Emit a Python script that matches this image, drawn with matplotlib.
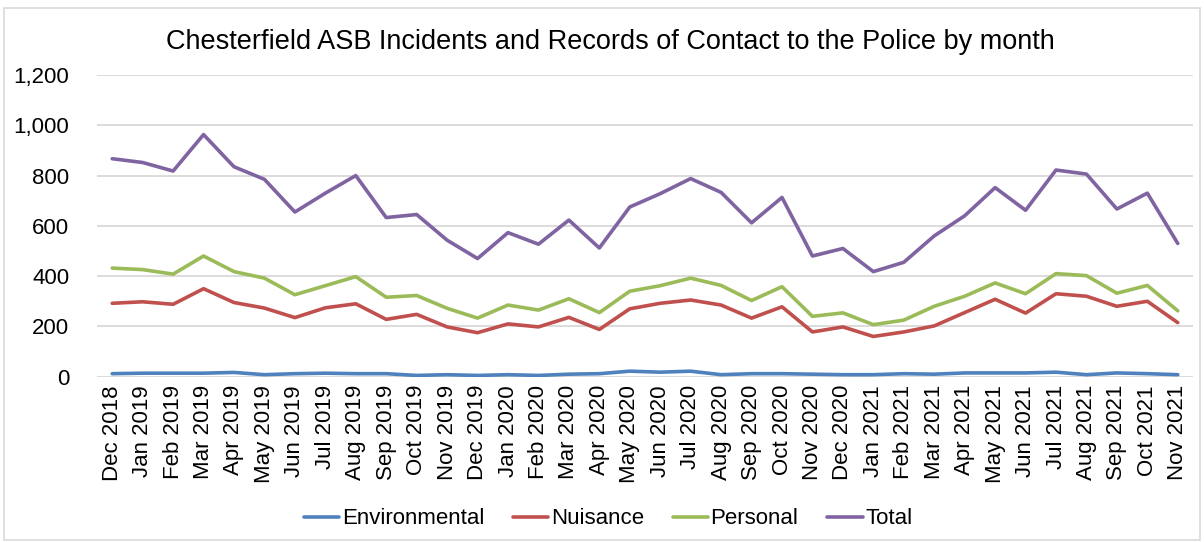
import matplotlib
matplotlib.use("Agg")
import matplotlib.pyplot as plt
from matplotlib.patches import Rectangle
from matplotlib.ticker import FuncFormatter

months = ["Dec 2018", "Jan 2019", "Feb 2019", "Mar 2019", "Apr 2019", "May 2019",
          "Jun 2019", "Jul 2019", "Aug 2019", "Sep 2019", "Oct 2019", "Nov 2019",
          "Dec 2019", "Jan 2020", "Feb 2020", "Mar 2020", "Apr 2020", "May 2020",
          "Jun 2020", "Jul 2020", "Aug 2020", "Sep 2020", "Oct 2020", "Nov 2020",
          "Dec 2020", "Jan 2021", "Feb 2021", "Mar 2021", "Apr 2021", "May 2021",
          "Jun 2021", "Jul 2021", "Aug 2021", "Sep 2021", "Oct 2021", "Nov 2021"]

environmental = [12, 14, 14, 14, 17, 8, 12, 14, 12, 12, 5, 8,
                 5, 8, 5, 10, 12, 22, 18, 22, 8, 12, 12, 10,
                 8, 8, 12, 10, 15, 15, 15, 18, 8, 15, 12, 8]
nuisance = [292, 298, 288, 350, 295, 273, 235, 274, 290, 228, 248, 198,
            175, 210, 198, 236, 188, 270, 292, 305, 285, 233, 278, 178,
            198, 160, 178, 202, 255, 308, 253, 330, 320, 280, 300, 215]
personal = [432, 426, 408, 480, 418, 392, 326, 362, 398, 316, 323, 272,
            233, 285, 265, 310, 255, 340, 362, 392, 363, 303, 358, 240,
            254, 207, 225, 280, 320, 373, 330, 410, 402, 332, 363, 262]
total = [867, 852, 818, 963, 835, 785, 655, 730, 800, 633, 645, 543,
         470, 573, 527, 623, 512, 675, 728, 788, 733, 612, 713, 480,
         510, 418, 455, 560, 640, 752, 662, 822, 806, 667, 730, 530]

series = [("Environmental", environmental, "#4F81BD"),
          ("Nuisance", nuisance, "#C0504D"),
          ("Personal", personal, "#9BBB59"),
          ("Total", total, "#8064A2")]

plt.rcParams["font.family"] = ["Liberation Sans", "DejaVu Sans"]

fig = plt.figure(figsize=(12.04, 5.42), dpi=100)
fig.patches.append(Rectangle((4 / 1204, 2 / 542), 1196 / 1204, 532 / 542,
                             transform=fig.transFigure, fill=False,
                             edgecolor="#d9d9d9", linewidth=1.2))
ax = fig.add_axes([97 / 1204, 1 - 376.7 / 542, 1096 / 1204, 301.7 / 542])

x = list(range(len(months)))
for name, vals, color in series:
    ax.plot(x, vals, color=color, linewidth=2.6, label=name,
            solid_capstyle="round", solid_joinstyle="round")

ax.set_xlim(-0.5, len(months) - 0.5)
ax.set_ylim(0, 1200)
ax.set_yticks(range(0, 1201, 200))
ax.yaxis.set_major_formatter(FuncFormatter(lambda v, p: f"{int(v):,}"))
ax.set_xticks(x)
ax.set_xticklabels(months, rotation=90)
ax.grid(axis="y", color="#d9d9d9", linewidth=1.3)
ax.set_axisbelow(True)
for s in ax.spines.values():
    s.set_visible(False)
ax.tick_params(axis="both", length=0, labelsize=16, colors="black")
ax.tick_params(axis="y", pad=20)
ax.tick_params(axis="x", pad=6)

fig.text(610 / 1204, 1 - 42 / 542, "Chesterfield ASB Incidents and Records of Contact to the Police by month",
         ha="center", va="center", fontsize=19.5)

fig.legend(loc="center", bbox_to_anchor=(0.505, 1 - 519 / 542), ncol=4,
           frameon=False, fontsize=16, handlelength=1.6, handletextpad=0.1,
           columnspacing=1.3)

fig.savefig("out.png", dpi=100)
